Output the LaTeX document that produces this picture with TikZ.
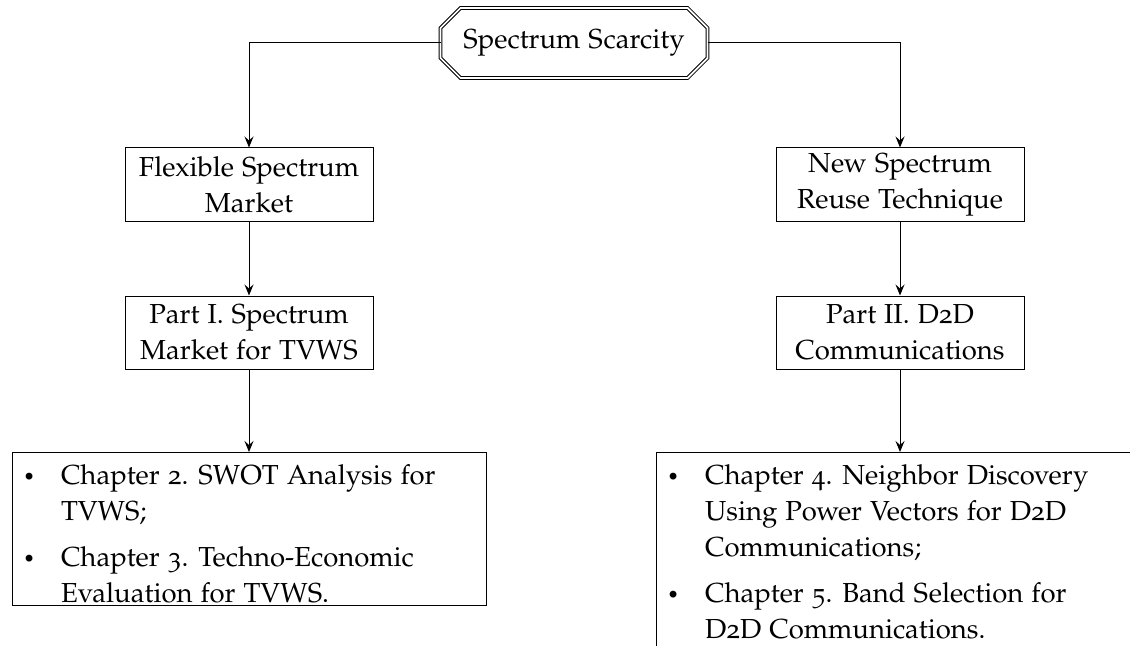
\documentclass[tikz,border=0pt]{standalone}
\usepackage[T1]{fontenc}
\usepackage[osf]{mathpazo}
\usetikzlibrary{arrows.meta}
\newcommand\mytext{\fontsize{11}{14.4}\selectfont}
\newcommand\mybul{\raisebox{0.4pt}{\footnotesize\textbullet}}
\tikzset{
  stagebox/.style={draw, minimum width=99.2pt, minimum height=29.2pt, align=center, inner sep=0pt, font=\mytext},
  listbox/.style={draw, inner sep=0pt, anchor=north west},
  listtext/.style={anchor=north west, inner sep=0pt, align=left, font=\mytext},
  arr/.style={-{Stealth[length=4.4pt,width=3.6pt,inset=1.6pt]}},
  octo/.style={double, double distance=0.7pt},
}
\begin{document}
\begin{tikzpicture}[x=0.4pt,y=-0.4pt]
\useasboundingbox (0,0) rectangle (1130,645);
\clip (0,0) rectangle (1130,645);
% top node
\node[minimum width=106.4pt, minimum height=27.6pt, inner sep=0pt, font=\mytext] (T) at (574,43) {Spectrum Scarcity};
\draw[octo] ([xshift=8pt]T.north west) -- ([xshift=-8pt]T.north east) -- ([yshift=-8pt]T.north east)
  -- ([yshift=8pt]T.south east) -- ([xshift=-8pt]T.south east) -- ([xshift=8pt]T.south west)
  -- ([yshift=8pt]T.south west) -- ([yshift=-8pt]T.north west) -- cycle;
% second level
\node[stagebox] (FL) at (249,184.5) {Flexible Spectrum\\Market};
\node[stagebox] (NS) at (900,184.5) {New Spectrum\\Reuse Technique};
% third level
\node[stagebox] (PI) at (249,332.5) {Part I. Spectrum\\Market for TVWS};
\node[stagebox] (PII) at (900,332.5) {Part II. D2D\\Communications};
% list boxes
\node[listbox, minimum width=189.6pt, minimum height=61pt] (L3) at (12,452) {};
\node[listbox, minimum width=195.2pt, minimum height=90pt] (R3) at (656,452) {};
\node[listtext] (L3t) at ([xshift=4.2pt,yshift=-2.8pt]L3.north west) {%
\begin{tabular}{@{}p{15.2pt}@{}l@{}}
\mybul & Chapter 2. SWOT Analysis for\\
 & TVWS;\\[4pt]
\mybul & Chapter 3. Techno-Economic\\
 & Evaluation for TVWS.
\end{tabular}};
\node[listtext] (R3t) at ([xshift=4.2pt,yshift=-2.8pt]R3.north west) {%
\begin{tabular}{@{}p{15.2pt}@{}l@{}}
\mybul & Chapter 4. Neighbor Discovery\\
 & Using Power Vectors for D2D\\
 & Communications;\\[4pt]
\mybul & Chapter 5. Band Selection for\\
 & D2D Communications.
\end{tabular}};
% connectors
\draw[arr] (T.west) -| (FL.north);
\draw[arr] (T.east) -| (NS.north);
\draw[arr] (FL.south) -- (PI.north);
\draw[arr] (NS.south) -- (PII.north);
\draw[arr] (PI.south) -- (PI.south |- L3.north);
\draw[arr] (PII.south) -- (PII.south |- R3.north);
\end{tikzpicture}
\end{document}
